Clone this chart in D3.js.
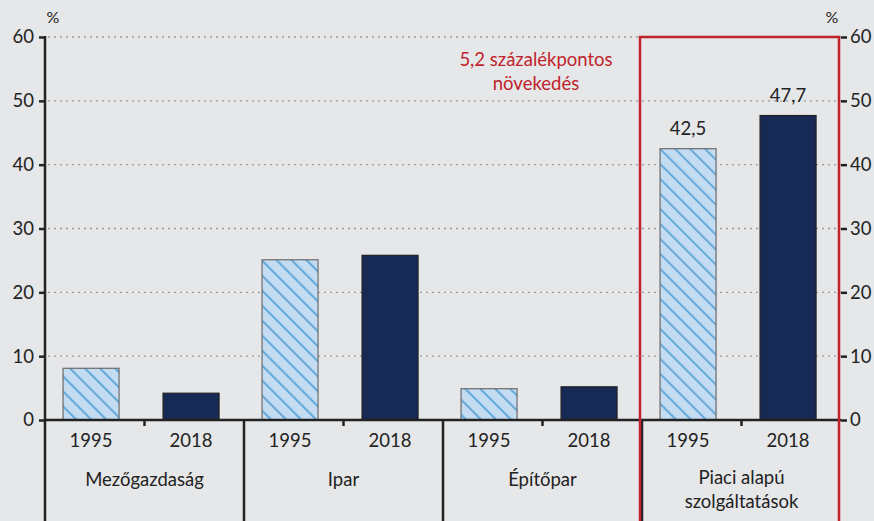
<!DOCTYPE html>
<html><head><meta charset="utf-8">
<script src="https://cdn.jsdelivr.net/npm/d3@7"></script>
<style>body{margin:0;background:#e6e7e9;} svg{display:block;font-family:Lato,"Open Sans",sans-serif;}</style>
</head><body><svg id="c" width="874" height="521"></svg>
<script>
const categories = ["Mezőgazdaság", "Ipar", "Építőpar", "Piaci alapú\nszolgáltatások"];
const years = ["1995", "2018"];
const values1995 = [8.1, 25.1, 4.9, 42.5];
const values2018 = [4.2, 25.8, 5.2, 47.7];
const yTicks = [0, 10, 20, 30, 40, 50, 60];
const annotation = ["5,2 százalékpontos", "növekedés"];

(function () {
const svg = d3.select("#c");
const W = 874, H = 521;
const mLeft = 45, mRight = 841, mTop = 37, mBottom = 420;
const FS = 18.5;
svg.append("rect").attr("width", W).attr("height", H).attr("fill", "#e6e7e9");

const y = d3.scaleLinear().domain([0, 60]).range([mBottom, mTop]);
const x0 = d3.scaleBand().domain(categories).range([mLeft, mRight]);
const x1 = d3.scaleBand().domain(years).range([0, x0.bandwidth()])
  .paddingInner(0.44).paddingOuter(0.215).align(0.42);

const defs = svg.append("defs");
const P = 10.6;
const pat = defs.append("pattern").attr("id", "hatch").attr("patternUnits", "userSpaceOnUse")
  .attr("width", P).attr("height", P).attr("patternTransform", "rotate(-45)");
pat.append("rect").attr("width", P).attr("height", P).attr("fill", "#c4dcf1");
pat.append("line").attr("x1", 1).attr("y1", 0).attr("x2", 1).attr("y2", P)
  .attr("stroke", "#66aadc").attr("stroke-width", 2.2);

// grid
svg.append("g").selectAll("line").data(yTicks.filter(d => d > 0)).join("line")
  .attr("x1", mLeft + 3).attr("x2", mRight).attr("y1", d => y(d)).attr("y2", d => y(d))
  .attr("stroke", "#9a9a9a").attr("stroke-width", 1.3).attr("stroke-dasharray", "2,4");

// bars
const data = [];
categories.forEach((c, i) => {
  data.push({c, yr: "1995", v: values1995[i]});
  data.push({c, yr: "2018", v: values2018[i]});
});
svg.append("g").selectAll("rect").data(data).join("rect")
  .attr("x", d => x0(d.c) + x1(d.yr))
  .attr("width", x1.bandwidth())
  .attr("y", d => y(d.v))
  .attr("height", d => mBottom - y(d.v))
  .attr("fill", d => d.yr === "1995" ? "url(#hatch)" : "#172a55")
  .attr("stroke", d => d.yr === "1995" ? "#6b6b6b" : "#222")
  .attr("stroke-width", 1.2);

// value labels for last category
const lastCat = categories[3];
svg.append("g").selectAll("text").data(data.filter(d => d.c === lastCat)).join("text")
  .attr("x", d => x0(d.c) + x1(d.yr) + x1.bandwidth() / 2)
  .attr("y", d => y(d.v) - 14)
  .attr("text-anchor", "middle").attr("font-size", FS).attr("fill", "#222")
  .text(d => d.v.toFixed(1).replace(".", ","));

// left axis
const gL = svg.append("g").attr("transform", `translate(${mLeft},0)`)
  .call(d3.axisLeft(y).tickValues(yTicks).tickSize(6).tickFormat(d3.format("d")));
gL.select(".domain").remove();
gL.selectAll(".tick line").attr("stroke", "#222").attr("stroke-width", 2.5);
gL.selectAll(".tick text").attr("font-size", FS).attr("fill", "#222").attr("x", -11).attr("font-family", "Lato,'Open Sans',sans-serif");
svg.append("line").attr("x1", mLeft).attr("x2", mLeft).attr("y1", mTop - 1).attr("y2", H)
  .attr("stroke", "#222").attr("stroke-width", 2.5);

// right axis
const gR = svg.append("g").attr("transform", `translate(${mRight},0)`)
  .call(d3.axisRight(y).tickValues(yTicks).tickSize(6).tickFormat(d3.format("d")));
gR.select(".domain").remove();
gR.selectAll(".tick line").attr("stroke", "#222").attr("stroke-width", 2.5);
gR.selectAll(".tick text").attr("font-size", FS).attr("fill", "#222").attr("x", 9).attr("font-family", "Lato,'Open Sans',sans-serif");

svg.append("text").attr("x", 53).attr("y", 23).attr("text-anchor", "middle").attr("font-size", 16).attr("fill", "#222").text("%");
svg.append("text").attr("x", 832).attr("y", 23).attr("text-anchor", "middle").attr("font-size", 16).attr("fill", "#222").text("%");

// category separators
svg.append("g").selectAll("line").data(categories.slice(1)).join("line")
  .attr("x1", d => x0(d)).attr("x2", d => x0(d)).attr("y1", mBottom).attr("y2", H)
  .attr("stroke", "#222").attr("stroke-width", 2.5);
// center ticks
svg.append("g").selectAll("line").data(categories).join("line")
  .attr("x1", d => x0(d) + x0.bandwidth() / 2).attr("x2", d => x0(d) + x0.bandwidth() / 2)
  .attr("y1", mBottom).attr("y2", mBottom + 6)
  .attr("stroke", "#222").attr("stroke-width", 2.5);

// baseline
svg.append("line").attr("x1", mLeft).attr("x2", mRight).attr("y1", mBottom).attr("y2", mBottom)
  .attr("stroke", "#222").attr("stroke-width", 2.5);

// year labels
svg.append("g").selectAll("text").data(data).join("text")
  .attr("x", d => x0(d.c) + x1(d.yr) + x1.bandwidth() / 2)
  .attr("y", 447).attr("text-anchor", "middle").attr("font-size", FS).attr("fill", "#222")
  .text(d => d.yr);

// category labels
categories.forEach(c => {
  const lines = c.split("\n");
  const cx = x0(c) + x0.bandwidth() / 2;
  const t = svg.append("text").attr("x", cx).attr("y", lines.length > 1 ? 484 : 486)
    .attr("text-anchor", "middle").attr("font-size", FS).attr("fill", "#222");
  lines.forEach((l, i) => t.append("tspan").attr("x", cx).attr("dy", i === 0 ? 0 : 24).text(l));
});

// red box
const bx = x0(lastCat) - 2;
svg.append("rect").attr("x", bx).attr("y", mTop).attr("width", mRight - 2 - bx).attr("height", H - mTop + 10)
  .attr("fill", "none").attr("stroke", "#c0232b").attr("stroke-width", 2.5);

// annotation
const at = svg.append("text").attr("x", 536).attr("y", 66).attr("text-anchor", "middle")
  .attr("font-size", FS).attr("fill", "#c0232b");
annotation.forEach((l, i) => at.append("tspan").attr("x", 536).attr("dy", i === 0 ? 0 : 24).text(l));
})();
</script></body></html>
